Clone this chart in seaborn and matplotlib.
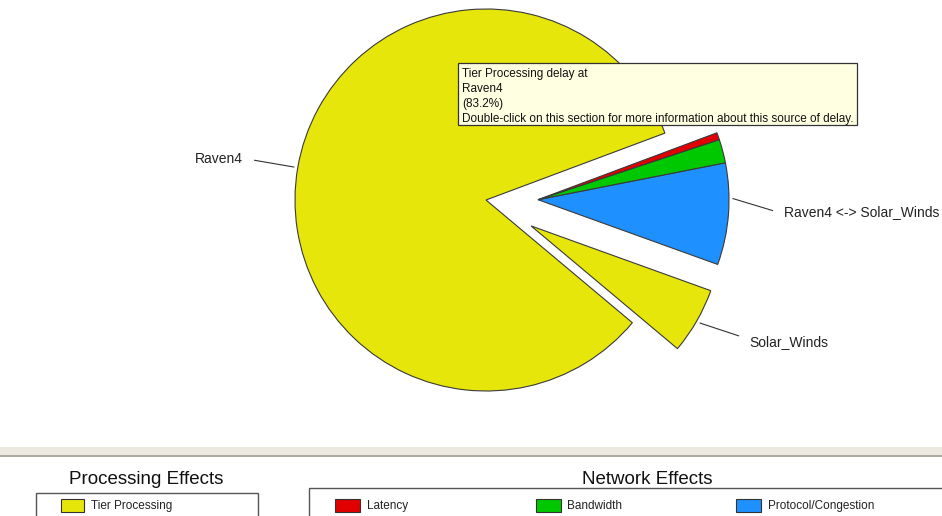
import numpy as np
import matplotlib.pyplot as plt
import seaborn as sns
from matplotlib.patches import Rectangle

# delay breakdown (percent of total delay)
sources = ["Raven4", "Solar_Winds", "Raven4 <-> Solar_Winds",
           "Raven4 <-> Solar_Winds", "Raven4 <-> Solar_Winds"]
effects = ["Tier Processing", "Tier Processing", "Protocol/Congestion",
           "Bandwidth", "Latency"]
delay_pct = [83.2, 5.6, 8.6, 2.0, 0.6]

processing_effects = ["Tier Processing"]
network_effects = ["Latency", "Bandwidth", "Protocol/Congestion"]

effect_colors = {"Tier Processing": "#E6E60A", "Latency": "#E00000",
                 "Bandwidth": "#00C800", "Protocol/Congestion": "#1E90FF"}

# small angle nudges (screen degrees) for the callout labels
label_nudge = {"Raven4": 0, "Solar_Winds": 2, "Raven4 <-> Solar_Winds": -3}

sns.set_theme(style="white")
plt.rcParams["font.family"] = ["Liberation Sans", "DejaVu Sans"]

W, H = 942, 516
fig = plt.figure(figsize=(W / 100, H / 100), dpi=100)
ax = fig.add_axes([0, 0, 1, 1])

cx, cy, R = 486, 200, 191
explode_px = 52
start = 20.5  # screen angle where the first slice starts

# y axis is flipped below, so draw clockwise in data space -> ccw on screen
explode = [0 if s == sources[0] else explode_px for s in sources]
wedges, _ = ax.pie(delay_pct, colors=[effect_colors[e] for e in effects],
                   startangle=-start, counterclock=False, radius=R,
                   center=(cx, cy), explode=explode, frame=True,
                   wedgeprops=dict(edgecolor="#3a3a3a", linewidth=0.8))

ax.set_xlim(0, W)
ax.set_ylim(H, 0)
ax.set_aspect("auto")
ax.axis("off")

# slices of the same source move out together
label_info = {}
for src in dict.fromkeys(sources):
    ws = [w for w, s in zip(wedges, sources) if s == src]
    t1 = min(w.theta1 for w in ws)
    t2 = max(w.theta2 for w in ws)
    mid = np.deg2rad((t1 + t2) / 2)
    off = 0 if src == sources[0] else explode_px
    c = (cx + off * np.cos(mid), cy + off * np.sin(mid))
    for w in ws:
        w.set_center(c)
    label_info[src] = (c, mid)

for src, (c, mid) in label_info.items():
    end = mid - np.deg2rad(label_nudge[src])
    p1 = (c[0] + 1.02 * R * np.cos(mid), c[1] + 1.02 * R * np.sin(mid))
    p2 = (c[0] + 1.23 * R * np.cos(end), c[1] + 1.23 * R * np.sin(end))
    ax.plot([p1[0], p2[0]], [p1[1], p2[1]], color="#333333", lw=0.8)
    tx = c[0] + 1.29 * R * np.cos(end)
    ty = c[1] + 1.29 * R * np.sin(end) + 1
    ax.text(tx, ty, src, ha="right" if np.cos(mid) < 0 else "left",
            va="center", fontsize=10, color="#222222")

# tooltip
ax.add_patch(Rectangle((458, 63), 399, 62, facecolor="#FFFFE1",
                       edgecolor="#333333", lw=0.9, zorder=5))
tip = ("Tier Processing delay at\n" + sources[0] + "\n(" +
       f"{delay_pct[0]:.1f}%" + ")\n"
       "Double-click on this section for more information "
       "about this source of delay.")
ax.text(462, 68.5, tip, ha="left", va="top", fontsize=8.5, linespacing=1.3,
        color="#111111", zorder=6)

# separator band
ax.add_patch(Rectangle((0, 447), W, 8, facecolor="#ECEAE0", edgecolor="none"))
ax.plot([0, W], [455.5, 455.5], color="#9E9C90", lw=1.2)

# legend boxes
ax.add_patch(Rectangle((36, 493), 222, 40, facecolor="white",
                       edgecolor="#555555", lw=1.0))
ax.add_patch(Rectangle((309, 488), 660, 40, facecolor="white",
                       edgecolor="#555555", lw=1.0))
ax.text(146, 479, "Processing Effects", ha="center", va="center",
        fontsize=13.5, color="#111111")
ax.text(647, 479, "Network Effects", ha="center", va="center",
        fontsize=13.5, color="#111111")

for i, eff in enumerate(processing_effects):
    x0 = 61 + i * 200
    ax.add_patch(Rectangle((x0, 499), 23, 13, facecolor=effect_colors[eff],
                           edgecolor="#333333", lw=0.8))
    ax.text(x0 + 30, 506, eff, ha="left", va="center", fontsize=8.5,
            color="#222222")

for i, eff in enumerate(network_effects):
    x0 = 335 + i * 200.5
    ax.add_patch(Rectangle((x0, 499), 25, 13, facecolor=effect_colors[eff],
                           edgecolor="#333333", lw=0.8))
    ax.text(x0 + 32, 506, eff, ha="left", va="center", fontsize=8.5,
            color="#222222")

fig.savefig("out.png", dpi=100, facecolor="white")
